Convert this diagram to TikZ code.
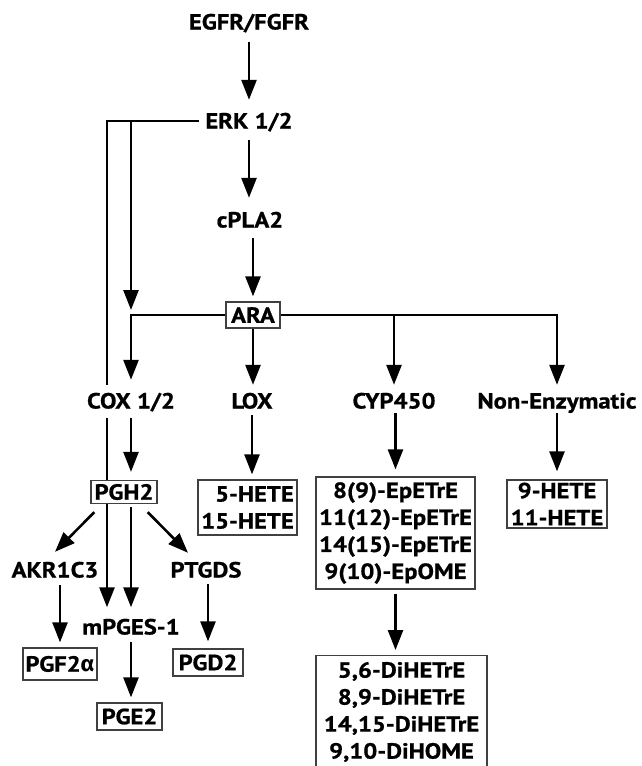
\documentclass[tikz,border=0pt]{standalone}
\usepackage{fontspec}
\setmainfont[FakeStretch=1.12,BoldFeatures={FakeBold=0.8}]{PT Sans}
\newfontfamily\grk[FakeStretch=1.05]{Fira Sans}
\usetikzlibrary{arrows.meta}
\pgfdeclarelayer{bg}
\pgfsetlayers{bg,main}
\begin{document}
\begin{tikzpicture}[x=1pt,y=-1pt,
  every node/.style={font=\bfseries\fontsize{22}{27}\selectfont},
  lbl/.style={inner sep=0pt, text height=15pt, text depth=0pt},
  box/.style={draw=black!75, line width=1.3pt, fill=white, inner sep=0pt},
  conn/.style={line width=2.6pt, -{Triangle[length=20pt,width=15pt]}}]
\clip (0,0) rectangle (642,766);
% nodes
\node[lbl] (egfr) at (249,22) {EGFR/FGFR};
\node[lbl] (erk) at (249,121) {ERK 1/2};
\node[lbl] (cpla) at (250,220) {cPLA2};
\node[box, minimum width=54pt, minimum height=26pt] (ara) at (253,315) {ARA};
\node[lbl, fill=white, inner ysep=9pt, inner xsep=1pt] (cox) at (131,401) {COX 1/2};
\node[lbl] (lox) at (252,401) {LOX};
\node[lbl] (cyp) at (394,401) {CYP450};
\node[lbl] (nonenz) at (557,401) {Non-Enzymatic};
\node[box, minimum width=66pt, minimum height=23pt] (pgh2) at (124,492) {PGH2};
\node[box, align=right, minimum width=99pt, minimum height=55pt] (hete1) at (247.5,507.5) {5-HETE\\15-HETE};
\node[box, align=center, minimum width=159pt, minimum height=112pt] (epo) at (395.5,533) {8(9)-EpETrE\\11(12)-EpETrE\\14(15)-EpETrE\\9(10)-EpOME};
\node[box, align=center, minimum width=100pt, minimum height=48pt] (hete2) at (557,504) {9-HETE\\11-HETE};
\node[lbl] (akr) at (55,570) {AKR1C3};
\node[lbl] (ptgds) at (206,570) {PTGDS};
\node[lbl] (mpges) at (131,627) {mPGES-1};
\node[box, minimum width=74pt, minimum height=32pt] (pgf) at (60,664) {PGF2{\grk α}};
\node[box, minimum width=70pt, minimum height=27pt] (pgd) at (208,662.5) {PGD2};
\node[box, minimum width=65pt, minimum height=27pt] (pge) at (129.5,716.5) {PGE2};
\node[box, anchor=north, minimum width=171pt, text height=22pt, text depth=110pt] (diol) at (401.5,655)
  {\begin{tabular}[t]{@{}c@{}}5,6-DiHETrE\\8,9-DiHETrE\\14,15-DiHETrE\\9,10-DiHOME\end{tabular}};
% connectors
\begin{pgfonlayer}{bg}
\draw[conn, shorten <=12.5pt, shorten >=13.5pt] (egfr.south) -- (egfr.south |- erk.north);
\draw[conn, shorten <=11.5pt, shorten >=14.5pt] (erk.south) -- (erk.south |- cpla.north);
\draw[conn, shorten <=10.5pt, shorten >=5pt] (ara.north |- cpla.south) -- (ara.north);
\draw[conn, shorten >=8.5pt] (ara.south) -- (ara.south |- lox.north);
\draw[conn, shorten >=4.5pt] (ara.west) -| (cox.north);
\draw[conn, shorten <=6pt, shorten >=5pt] (erk.west) -| (cox.north |- ara.west);
\draw[conn, shorten <=6pt, shorten >=12pt] (erk.west) -| ([xshift=-24pt]mpges.north);
\draw[conn, shorten >=8.5pt] (ara.east) -| (nonenz.north);
\draw[conn, shorten >=8.5pt] (ara.east -| cyp.north) -- (cyp.north);
\draw[conn, shorten >=8pt] (cox.south) -- (cox.south |- pgh2.north);
\draw[conn, shorten <=3pt, shorten >=12pt] (pgh2.south -| mpges.north) -- (mpges.north);
\draw[conn] ([shift={(4,8)}]pgh2.south west) -- ([shift={(0,-10.5)}]akr.north);
\draw[conn] ([shift={(-10,8)}]pgh2.south east) -- ([shift={(-18,-9.5)}]ptgds.north);
\draw[conn, shorten <=7.5pt, shorten >=5pt] (akr.south -| pgf.north) -- (pgf.north);
\draw[conn, shorten <=6.5pt, shorten >=7pt] (ptgds.south -| pgd.north) -- (pgd.north);
\draw[conn, shorten <=7.5pt, shorten >=5pt] (mpges.south) -- (mpges.south |- pge.north);
\draw[conn, shorten <=6.5pt, shorten >=5pt] (lox.south) -- (lox.south |- hete1.north);
\draw[conn, shorten <=4.5pt, shorten >=7pt] (epo.north |- cyp.south) -- (epo.north);
\draw[conn, shorten <=4.5pt, shorten >=8pt] (nonenz.south) -- (nonenz.south |- hete2.north);
\draw[conn, shorten <=4pt, shorten >=5pt] (epo.south) -- (epo.south |- diol.north);
\end{pgfonlayer}
\end{tikzpicture}
\end{document}
